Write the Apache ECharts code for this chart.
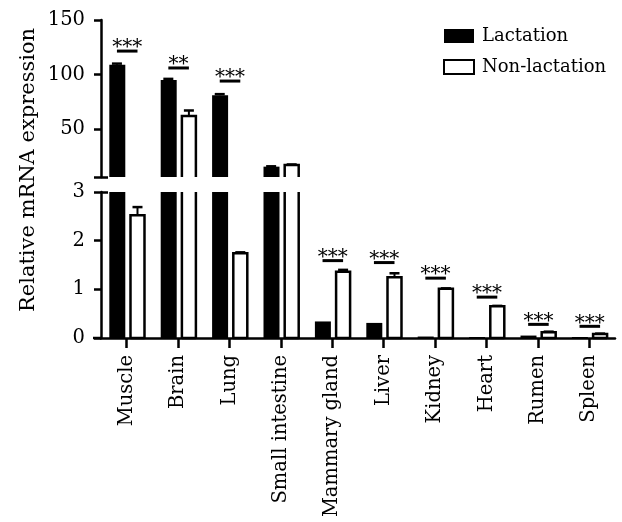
<!DOCTYPE html>
<html>
<head>
<meta charset="utf-8">
<script src="https://cdn.jsdelivr.net/npm/echarts@6/dist/echarts.min.js"></script>
<style>html,body{margin:0;padding:0;background:#fff}#c{width:622px;height:522px}</style>
</head>
<body>
<div id="c"></div>
<script>
const categories = ['Muscle','Brain','Lung','Small intestine','Mammary gland','Liver','Kidney','Heart','Rumen','Spleen'];
const lactation = [109, 95, 81, 15.5, 0.34, 0.31, 0.03, 0.02, 0.05, 0.02];
const nonLactation = [2.52, 62, 1.74, 17, 1.36, 1.25, 1.01, 0.65, 0.12, 0.08];
const lactationErr = [1, 1, 1, 0.3, 0.01, 0.01, 0.01, 0.01, 0.01, 0.01];
const nonLactationErr = [0.17, 5, 0.02, 0.5, 0.04, 0.08, 0.01, 0.01, 0.01, 0.01];
const sigLabels = ['***','**','***','','***','***','***','***','***','***'];
const sigHeights = [121.5, 106, 94, null, 1.59, 1.55, 1.23, 0.84, 0.28, 0.24];
const lowerTicks = [0, 1, 2, 3];
const upperTicks = [50, 100, 150];
const lowerMax = 3, upperMin = 6, upperMax = 150;

const FONT = 'DejaVu Serif';
const chart = echarts.init(document.getElementById('c'), null, {renderer: 'canvas'});

const LOFF = -0.19, ROFF = 0.21;
function inUpper(v){ return v > lowerMax; }

function sigData(upper){
  const out = [];
  sigHeights.forEach((h, i) => {
    if (h == null) return;
    if (inUpper(h) === upper) out.push([i, h, sigLabels[i]]);
  });
  return out;
}
function errData(vals, errs, upper){
  const out = [];
  vals.forEach((v, i) => { if (inUpper(v) === upper) out.push([i, v, v + errs[i]]); });
  return out;
}
function sigRender(params, api){
  const p = api.coord([api.value(0), api.value(1)]);
  const bw = api.size([1, 0])[0];
  return {type: 'group', children: [
    {type: 'line', shape: {x1: p[0] + LOFF * bw, y1: p[1], x2: p[0] + ROFF * bw, y2: p[1]},
     style: {stroke: '#000', lineWidth: 3}},
    {type: 'text', style: {text: api.value(2), x: p[0] + (LOFF + ROFF) / 2 * bw, y: p[1] - 3,
      align: 'center', verticalAlign: 'middle', font: '20px "' + FONT + '"', fill: '#000'}}
  ]};
}
function errRender(off){
  return function(params, api){
    const p0 = api.coord([api.value(0), api.value(1)]);
    const p1 = api.coord([api.value(0), api.value(2)]);
    const bw = api.size([1, 0])[0];
    const x = p0[0] + off * bw;
    return {type: 'group', children: [
      {type: 'line', shape: {x1: x, y1: p0[1], x2: x, y2: p1[1]}, style: {stroke: '#000', lineWidth: 2}},
      {type: 'line', shape: {x1: x - 5, y1: p1[1], x2: x + 5, y2: p1[1]}, style: {stroke: '#000', lineWidth: 2.5}}
    ]};
  };
}
// open (white) bar: borders only where the bar is not cut by the axis break
function openBarRender(params, api){
  const cs = params.coordSys;
  const v = api.value(1);
  const pv = api.coord([api.value(0), v]);
  const p0 = api.coord([api.value(0), 0]);
  const bw = api.size([1, 0])[0];
  const cx = pv[0] + ROFF * bw;
  const half = 7;
  const yMin = cs.y, yMax = cs.y + cs.height;
  let top = pv[1], bot = p0[1];
  const topCut = top < yMin, botCut = bot > yMax;
  top = Math.max(top, yMin); bot = Math.min(bot, yMax);
  if (top >= bot) return null;
  const l = cx - half, r = cx + half;
  const st = {stroke: '#000', lineWidth: 2.5, fill: null};
  const children = [{type: 'rect', shape: {x: l, y: top, width: r - l, height: bot - top}, style: {fill: '#fff'}}];
  if (!topCut) {
    children.push({type: 'polyline', shape: {points: [[l, bot], [l, top], [r, top], [r, bot]]}, style: st});
  } else {
    children.push({type: 'line', shape: {x1: l, y1: top, x2: l, y2: bot}, style: st});
    children.push({type: 'line', shape: {x1: r, y1: top, x2: r, y2: bot}, style: st});
  }
  if (!botCut) children.push({type: 'line', shape: {x1: l, y1: bot, x2: r, y2: bot}, style: st});
  return {type: 'group', children: children};
}
function openData(upper){
  const out = [];
  nonLactation.forEach((v, i) => { if (!upper || inUpper(v)) out.push([i, v]); });
  return out;
}

const axisLine = {show: true, lineStyle: {color: '#000', width: 2.5}};
const labelStyle = {color: '#000', fontFamily: FONT, fontSize: 19.5};

const upperLact = lactation.map(v => inUpper(v) ? v : '-');

const lactStyle = {color: '#000', borderColor: '#000', borderWidth: 0};
const nonStyle = {color: '#fff', borderColor: '#000', borderWidth: 2.5};

const option = {
  animation: false,
  backgroundColor: '#fff',
  legend: {
    orient: 'vertical', left: 438, top: 22, itemWidth: 30, itemHeight: 14, itemGap: 13, icon: 'rect',
    textStyle: {color: '#000', fontFamily: FONT, fontSize: 18, padding: [0, 0, 0, 3]},
    data: ['Lactation', 'Non-lactation']
  },
  graphic: [
    {type: 'text', x: 29, y: 170, rotation: Math.PI / 2,
     style: {text: 'Relative mRNA expression', font: '21px "' + FONT + '"', fill: '#000', align: 'center', verticalAlign: 'middle'}},
    {type: 'line', shape: {x1: 93, y1: 338, x2: 102, y2: 338}, style: {stroke: '#000', lineWidth: 2.5}}
  ],
  grid: [
    {left: 101, right: 7, top: 20, height: 157},
    {left: 101, right: 7, top: 192, height: 146}
  ],
  xAxis: [
    {type: 'category', gridIndex: 0, data: categories, show: false},
    {type: 'category', gridIndex: 1, data: categories,
     axisLine: axisLine,
     axisTick: {show: true, alignWithLabel: true, length: 10, lineStyle: {color: '#000', width: 2.5}},
     axisLabel: Object.assign({rotate: 90, margin: 17, interval: 0}, labelStyle)}
  ],
  yAxis: [
    {type: 'value', gridIndex: 0, position: 'left', min: upperMin, max: upperMax, splitLine: {show: false},
     axisLine: axisLine,
     axisTick: {show: true, length: 7, customValues: [upperMin].concat(upperTicks), lineStyle: {color: '#000', width: 2.5}},
     axisLabel: Object.assign({customValues: upperTicks, margin: 16}, labelStyle)},
    {type: 'value', gridIndex: 1, position: 'left', min: 0, max: lowerMax, splitLine: {show: false},
     axisLine: axisLine,
     axisTick: {show: true, length: 7, customValues: lowerTicks, lineStyle: {color: '#000', width: 2.5}},
     axisLabel: Object.assign({customValues: lowerTicks, margin: 16}, labelStyle)},
    {type: 'value', gridIndex: 0, position: 'left', min: upperMin, max: upperMax, splitLine: {show: false},
     axisLine: {show: false}, axisLabel: {show: false},
     axisTick: {show: true, inside: true, length: 7, customValues: [upperMin], lineStyle: {color: '#000', width: 2.5}}},
    {type: 'value', gridIndex: 1, position: 'left', min: 0, max: lowerMax, splitLine: {show: false},
     axisLine: {show: false}, axisLabel: {show: false},
     axisTick: {show: true, inside: true, length: 7, customValues: [lowerMax], lineStyle: {color: '#000', width: 2.5}}}
  ],
  series: [
    {name: 'Lactation', type: 'bar', xAxisIndex: 0, yAxisIndex: 0, data: upperLact, barWidth: 16, barGap: '22%', itemStyle: lactStyle, clip: true},
    {name: 'Non-lactation', type: 'bar', xAxisIndex: 0, yAxisIndex: 0, data: [], barWidth: 14, barGap: '30%', itemStyle: nonStyle},
    {name: 'Lactation', type: 'bar', xAxisIndex: 1, yAxisIndex: 1, data: lactation, barWidth: 16, barGap: '22%', itemStyle: lactStyle, clip: true},
    {name: 'Non-lactation', type: 'bar', xAxisIndex: 1, yAxisIndex: 1, data: [], barWidth: 14, barGap: '30%', itemStyle: nonStyle},
    {name: 'Non-lactation', type: 'custom', xAxisIndex: 0, yAxisIndex: 0, renderItem: openBarRender, data: openData(true), itemStyle: nonStyle, z: 2},
    {name: 'Non-lactation', type: 'custom', xAxisIndex: 1, yAxisIndex: 1, renderItem: openBarRender, data: openData(false), itemStyle: nonStyle, z: 2},
    {type: 'custom', xAxisIndex: 0, yAxisIndex: 0, renderItem: errRender(LOFF), data: errData(lactation, lactationErr, true), z: 1, clip: true},
    {type: 'custom', xAxisIndex: 0, yAxisIndex: 0, renderItem: errRender(ROFF), data: errData(nonLactation, nonLactationErr, true), z: 1, clip: true},
    {type: 'custom', xAxisIndex: 1, yAxisIndex: 1, renderItem: errRender(ROFF), data: errData(nonLactation, nonLactationErr, false), z: 1, clip: true},
    {type: 'custom', xAxisIndex: 0, yAxisIndex: 0, renderItem: sigRender, data: sigData(true), z: 5},
    {type: 'custom', xAxisIndex: 1, yAxisIndex: 1, renderItem: sigRender, data: sigData(false), z: 5}
  ]
};
chart.setOption(option);
</script>
</body>
</html>
